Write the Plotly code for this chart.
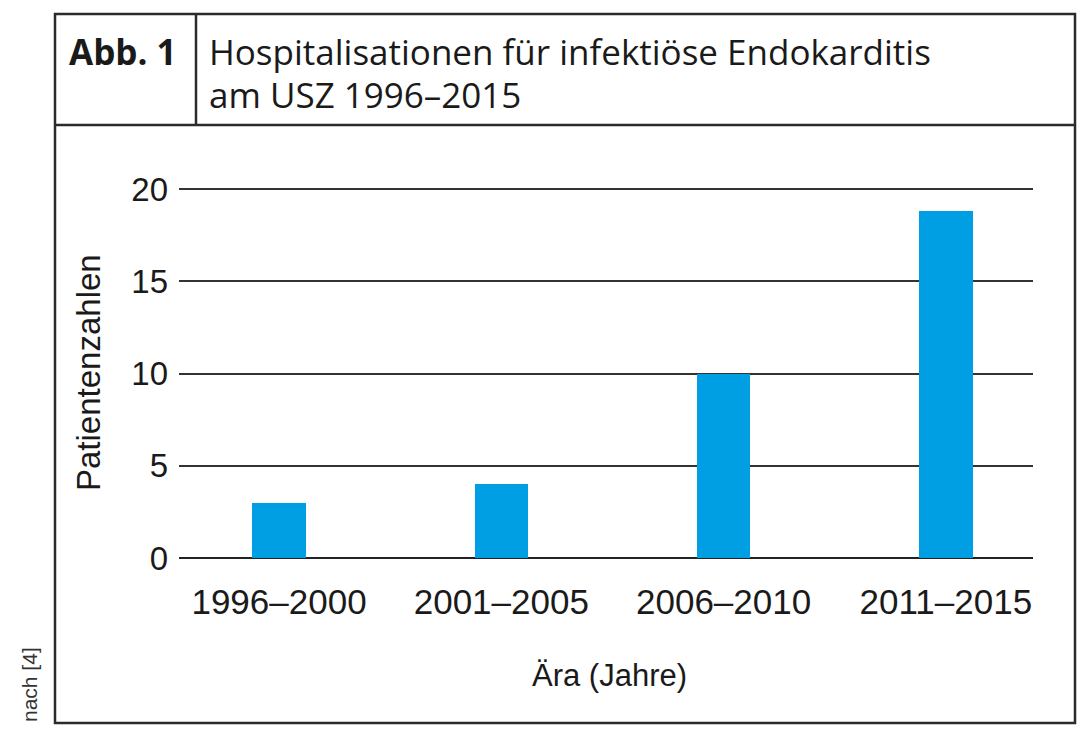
import plotly.graph_objects as go

categories = ["1996–2000", "2001–2005", "2006–2010", "2011–2015"]
patients = [3, 4, 10, 18.8]
y_ticks = [0, 5, 10, 15, 20]

title_label = "Abb. 1"
title_line1 = "Hospitalisationen für infektiöse Endokarditis"
title_line2 = "am USZ 1996–2015"
x_title = "Ära (Jahre)"
y_title = "Patientenzahlen"
source_note = "nach [4]"

# the page body has an 8px margin; work in page pixel coordinates
OFF = 8
W, H = 1089 - OFF, 743 - OFF
L, R, T, B = 179 - OFF, 56, 180 - OFF, 185
PW, PH = W - L - R, H - T - B

def px(x):
    return (x - OFF - L) / PW

def py(y):
    return (H - B - (y - OFF)) / PH

BLUE = "#009fe3"
DARK = "#2b2b2b"
AX_FONT = "Liberation Sans"
HEAD_FONT = "Open Sans"

fig = go.Figure(go.Bar(
    x=categories, y=patients, marker=dict(color=BLUE, line=dict(width=0)),
    width=0.24, hoverinfo="x+y",
))

shapes = [
    dict(type="rect", xref="paper", yref="paper", x0=px(55), x1=px(1075), y0=py(14), y1=py(723),
         line=dict(color=DARK, width=2.5), layer="above"),
    dict(type="line", xref="paper", yref="paper", x0=px(55), x1=px(1075), y0=py(125), y1=py(125),
         line=dict(color=DARK, width=2.5)),
    dict(type="line", xref="paper", yref="paper", x0=px(196), x1=px(196), y0=py(14), y1=py(125),
         line=dict(color=DARK, width=2.5)),
]

annotations = [
    dict(text="<b>" + title_label + "</b>", xref="paper", yref="paper", x=px(67), y=py(51),
         xanchor="left", yanchor="middle", showarrow=False,
         font=dict(family=HEAD_FONT, size=35, color="#1a1a1a")),
    dict(text=title_line1, xref="paper", yref="paper", x=px(207), y=py(51),
         xanchor="left", yanchor="middle", showarrow=False,
         font=dict(family=HEAD_FONT, size=35, color="#1a1a1a")),
    dict(text=title_line2, xref="paper", yref="paper", x=px(207), y=py(94),
         xanchor="left", yanchor="middle", showarrow=False,
         font=dict(family=HEAD_FONT, size=35, color="#1a1a1a")),
    dict(text=x_title, xref="paper", yref="paper", x=px(609), y=py(675),
         xanchor="center", yanchor="middle", showarrow=False,
         font=dict(family=AX_FONT, size=31, color="#1a1a1a")),
    dict(text=y_title, xref="paper", yref="paper", x=px(88), y=py(373),
         xanchor="center", yanchor="middle", showarrow=False, textangle=-90,
         font=dict(family=AX_FONT, size=33, color="#1a1a1a")),
    dict(text=source_note, xref="paper", yref="paper", x=px(29), y=py(685),
         xanchor="center", yanchor="middle", showarrow=False, textangle=-90,
         font=dict(family=AX_FONT, size=21, color="#333333")),
]

fig.update_layout(
    width=W, height=H,
    margin=dict(l=L, r=R, t=T, b=B, pad=0),
    paper_bgcolor="white", plot_bgcolor="white",
    showlegend=False,
    bargap=0,
    shapes=shapes,
    annotations=annotations,
    xaxis=dict(
        type="category", range=[-0.45, 3.392],
        showgrid=False, zeroline=False, showline=False,
        ticks="", ticklabelstandoff=20,
        tickfont=dict(family=AX_FONT, size=35, color="#1a1a1a"),
    ),
    yaxis=dict(
        range=[0, 20.5], tickvals=y_ticks,
        showgrid=True, gridcolor="#333333", gridwidth=1.6,
        zeroline=True, zerolinecolor="#222222", zerolinewidth=1.8,
        showline=False, ticks="", ticklabelstandoff=10,
        tickfont=dict(family=AX_FONT, size=33, color="#1a1a1a"),
    ),
)

fig.write_html("out.html")
